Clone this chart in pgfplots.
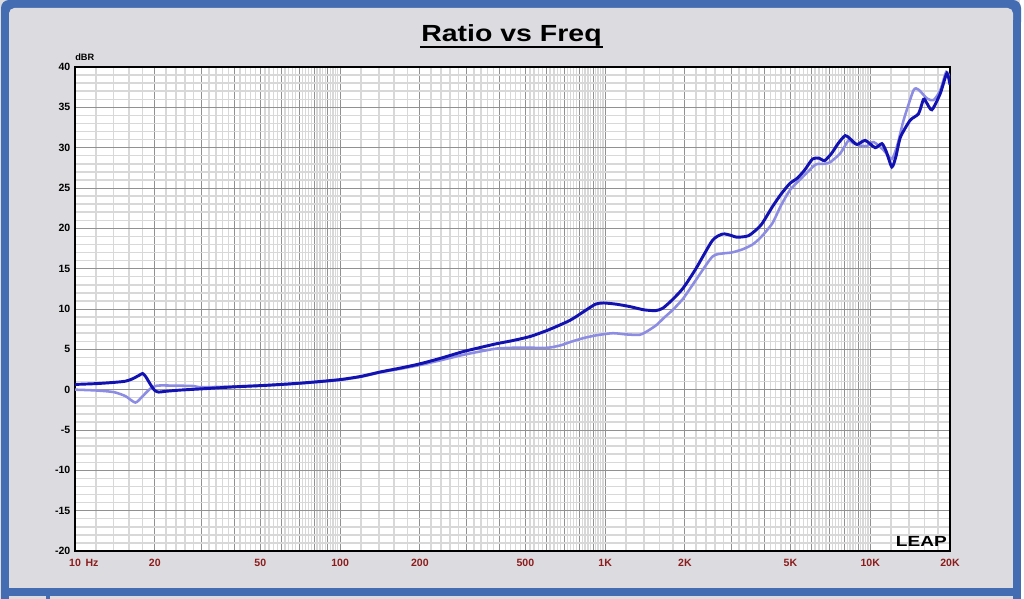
\documentclass[border=0pt]{standalone}
\usepackage{pgfplots}
\pgfplotsset{compat=1.18}
\usepackage{fontspec}
\setmainfont{Liberation Sans}
\definecolor{bgray}{RGB}{220,220,224}
\definecolor{bblue}{RGB}{68,108,178}
\definecolor{lblred}{RGB}{140,28,28}
\definecolor{dkblue}{RGB}{18,18,178}
\definecolor{ltblue}{RGB}{140,140,228}
\definecolor{gmaj}{RGB}{145,145,145}
\definecolor{gmin}{RGB}{216,216,216}
\begin{document}
\begin{tikzpicture}
\begin{scope}[x=0.75pt,y=-0.75pt]
\useasboundingbox (0,0) rectangle (1024,599);
\fill[white] (0,0) rectangle (1024,599);
\fill[bgray] (0,0) rectangle (1020,599);
\fill[bblue, rounded corners=6pt] (1,0) rectangle (1021,30);
\fill[bgray, rounded corners=4pt] (9,8) rectangle (1013,40);
\fill[bblue] (1,20) rectangle (9,599);
\fill[bblue] (1013,20) rectangle (1021,599);
\fill[bblue] (1,588) rectangle (1021,596);
\fill[bblue] (46,596) rectangle (50,599);
\node[anchor=base, inner sep=0, font=\fontsize{17.5}{18}\selectfont\bfseries] at (511.5,41.5) {\scalebox{1.22}[1]{Ratio vs Freq}};
\draw[black, line width=1.5pt] (420,47) -- (603,47);
\node[anchor=base west, inner sep=0, font=\fontsize{6.9}{7}\selectfont\bfseries] at (75,61) {dBR};
\end{scope}
\begin{axis}[
 at={(56.25pt,-413.25pt)}, anchor=south west,
 width=656.25pt, height=363pt, scale only axis,
 xmode=log, log basis x=10, xmin=10, xmax=20000, ymin=-20, ymax=40,
 axis background/.style={fill=white},
 xtick={10,20,30,40,50,60,70,80,90,100,200,300,400,500,600,700,800,900,1000,2000,3000,4000,5000,6000,7000,8000,9000,10000,20000},
 xticklabels={10\rlap{\hspace{0.45em}Hz},20,,,50,,,,,100,200,,,500,,,,,1K,2K,,,5K,,,,,10K,20K},
 minor xtick={12,14,16,18,22,24,26,28,32,34,36,38,42,44,46,48,52,54,56,58,62,64,66,68,72,74,76,78,82,84,86,88,92,94,96,98,
 120,140,160,180,220,240,260,280,320,340,360,380,420,440,460,480,520,540,560,580,620,640,660,680,720,740,760,780,820,840,860,880,920,940,960,980,
 1200,1400,1600,1800,2200,2400,2600,2800,3200,3400,3600,3800,4200,4400,4600,4800,5200,5400,5600,5800,6200,6400,6600,6800,7200,7400,7600,7800,8200,8400,8600,8800,9200,9400,9600,9800,
 12000,14000,16000,18000},
 ytick={-20,-15,-10,-5,0,5,10,15,20,25,30,35,40},
 yticklabels={-20,-15,-10,-5,0,5,10,15,20,25,30,35,40},
 minor ytick={-19,-18,-17,-16,-14,-13,-12,-11,-9,-8,-7,-6,-4,-3,-2,-1,1,2,3,4,6,7,8,9,11,12,13,14,16,17,18,19,21,22,23,24,26,27,28,29,31,32,33,34,36,37,38,39},
 grid=both,
 major grid style={gmaj, line width=0.7pt},
 minor grid style={gmin, line width=1.1pt},
 major tick length=0pt, minor tick length=0pt,
 axis line style={black, line width=1.5pt},
 xticklabel style={font=\fontsize{7.9}{8}\selectfont\bfseries, text=lblred, yshift=-2.5pt},
 yticklabel style={font=\fontsize{7.9}{8}\selectfont\bfseries},
 clip mode=individual,
]
\addplot[ltblue, line width=1.9pt, smooth, tension=0.4] coordinates {
(10,0.0) (12,-0.1) (14,-0.3) (15.5,-0.8) (16.9,-1.6) (18,-0.8) (19.2,0.1) (20.4,0.5)
(24,0.5) (28,0.45) (30,0.3) (40,0.4) (50,0.5) (60,0.62) (70,0.77) (80,0.92) (100,1.2)
(120,1.6) (142,2.15) (170,2.6) (200,3.05) (240,3.65) (290,4.3) (340,4.75) (390,5.1)
(450,5.2) (522,5.2) (610,5.2) (680,5.5) (737,5.9) (830,6.4) (930,6.75) (1070,7.0)
(1200,6.85) (1350,6.8) (1450,7.3) (1560,8.0) (1660,8.85) (1800,9.9) (1970,11.3)
(2200,13.6) (2540,16.5) (2800,16.9) (3000,17.0) (3300,17.4) (3600,18.0) (3870,18.9)
(4270,20.6) (4600,22.8) (4970,24.7) (5300,25.7) (5650,26.6) (6220,27.9) (6700,28.0)
(7060,28.2) (7710,29.3) (8280,30.9) (8600,30.6) (9030,30.3) (9710,30.2) (10300,30.7)
(11220,29.7) (12070,28.6) (12700,30.5) (13360,33.4) (14560,37.1) (15210,37.2)
(16370,36.1) (17340,35.9) (18370,37.1) (19360,39.4) (20000,38.6)
};
\addplot[dkblue, line width=2.2pt, smooth, tension=0.4] coordinates {
(10,0.65) (12,0.75) (14,0.9) (15.5,1.05) (16.5,1.35) (17.5,1.8) (18,2.0) (18.5,1.6)
(19.3,0.6) (20,-0.1) (20.7,-0.3) (22,-0.2) (25,-0.05) (30,0.1) (40,0.35) (50,0.5)
(60,0.65) (70,0.8) (80,0.95) (100,1.25) (120,1.65) (142,2.2) (170,2.7) (200,3.2)
(240,3.9) (290,4.7) (340,5.25) (390,5.7) (450,6.1) (522,6.6) (610,7.4) (737,8.6)
(850,9.9) (920,10.6) (984,10.75) (1100,10.6) (1239,10.3) (1400,9.9) (1550,9.8)
(1650,10.1) (1800,11.2) (1970,12.6) (2200,15.0) (2540,18.5) (2780,19.3) (3000,19.1)
(3140,18.9) (3480,19.1) (3870,20.4) (4270,22.65) (4600,24.2) (4970,25.55) (5300,26.2)
(5650,27.2) (6060,28.6) (6400,28.7) (6730,28.4) (7150,29.3) (7600,30.6) (8050,31.5)
(8400,31.1) (8910,30.4) (9580,30.9) (10440,30.0) (11070,30.5) (11500,29.5) (12070,27.6)
(12500,28.9) (13000,31.3) (14150,33.4) (15210,34.2) (15890,36.0) (16300,35.6)
(17090,34.7) (18370,36.7) (19460,39.2) (20000,37.8)
};
\end{axis}
\begin{scope}[x=0.75pt,y=-0.75pt]
\node[anchor=south east, inner sep=0, font=\fontsize{11}{11}\selectfont\bfseries] at (947,547) {\scalebox{1.3}[1]{LEAP}};
\end{scope}
\end{tikzpicture}
\end{document}
